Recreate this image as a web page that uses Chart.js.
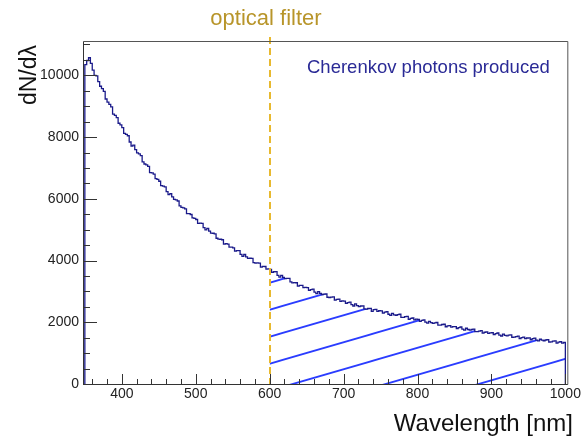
<!DOCTYPE html>
<html>
<head>
<meta charset="utf-8">
<script src="https://cdn.jsdelivr.net/npm/chart.js@4/dist/chart.umd.min.js"></script>
<style>
  html, body { margin: 0; padding: 0; background: #fff; }
  #wrap { width: 583px; height: 439px; }
</style>
</head>
<body>
<div id="wrap"><canvas id="spectrum"></canvas></div>
<script>
// Histogram binning (nm)
const BIN_START = 350;
const BIN_WIDTH = 2.5;
const BIN_END = 1000;

// Photon counts per bin (350 ... 997.5 nm)
const counts = [
  10350, 10480, 10570, 10390, 10172, 9997, 9982, 9796, 9647, 9571,
  9479, 9233, 9129, 9062, 8980, 8744, 8702, 8627, 8448, 8394,
  8308, 8119, 8088, 8042, 7841, 7711, 7740, 7596, 7489, 7453,
  7401, 7194, 7127, 7097, 7051, 6849, 6841, 6799, 6654, 6631,
  6569, 6427, 6413, 6385, 6233, 6137, 6169, 6062, 5984, 5963,
  5929, 5769, 5723, 5706, 5676, 5520, 5520, 5492, 5381, 5369,
  5329, 5207, 5211, 5202, 5068, 4991, 5040, 4950, 4888, 4884,
  4866, 4722, 4692, 4690, 4674, 4533, 4547, 4533, 4436, 4437,
  4411, 4302, 4319, 4322, 4201, 4135, 4196, 4118, 4068, 4074,
  4067, 3935, 3915, 3923, 3918, 3787, 3810, 3806, 3719, 3730,
  3709, 3618, 3636, 3642, 3516, 3463, 3518, 3454, 3414, 3423,
  3419, 3308, 3274, 3283, 3281, 3172, 3194, 3193, 3120, 3132,
  3120, 3036, 3060, 3073, 2978, 2931, 2992, 2934, 2900, 2914,
  2916, 2811, 2802, 2817, 2820, 2716, 2743, 2747, 2679, 2696,
  2688, 2609, 2638, 2655, 2570, 2527, 2593, 2539, 2509, 2527,
  2534, 2432, 2427, 2446, 2453, 2353, 2409, 2417, 2353, 2373,
  2369, 2294, 2326, 2347, 2260, 2221, 2290, 2239, 2228, 2249,
  2259, 2161, 2159, 2181, 2191, 2094, 2128, 2139, 2077, 2100,
  2095, 2032, 2060, 2077, 2004, 1972, 2030, 1988, 1965, 1983,
  1992, 1910, 1908, 1927, 1935, 1854, 1883, 1891, 1840, 1859,
  1859, 1798, 1827, 1847, 1776, 1746, 1806, 1765, 1745, 1765,
  1775, 1695, 1696, 1716, 1726, 1647, 1677, 1688, 1638, 1659,
  1660, 1601, 1632, 1653, 1584, 1555, 1617, 1578, 1560, 1581,
  1593, 1514, 1516, 1538, 1550, 1471, 1503, 1516, 1468, 1490,
  1492, 1434, 1467, 1489, 1422, 1394, 1457, 1419, 1402, 1425,
  1438, 1360, 1363, 1386, 1399, 1323, 1356, 1369, 1322, 1345
];

const xTicks = [400, 500, 600, 700, 800, 900, 1000];
const yTicks = [0, 2000, 4000, 6000, 8000, 10000];

const FILTER_NM = 600;   // optical filter cut
const X_MIN = 347.5, X_MAX = 1004;
const Y_MAX = 11080;

const FONT = '"Liberation Sans", Arial, sans-serif';

// step points for the full histogram (closed at both ends)
const histPoints = [{ x: BIN_START, y: 0 }]
  .concat(counts.map((v, i) => ({ x: BIN_START + i * BIN_WIDTH, y: v })))
  .concat([{ x: BIN_END, y: counts[counts.length - 1] }, { x: BIN_END, y: 0 }]);

// part of the histogram passed by the filter
const filteredPoints = histPoints.filter(p => p.x >= FILTER_NM && p.y > 0);

function makeHatch() {
  const w = 93, h = 27;
  const c = document.createElement('canvas');
  c.width = w; c.height = h;
  const g = c.getContext('2d');
  g.strokeStyle = '#2a3cff';
  g.lineWidth = 1.8;
  for (const k of [-1, 0, 1]) {
    g.beginPath();
    g.moveTo(-10, h * (1 + k) + 10 * h / w);
    g.lineTo(w + 10, h * k - 10 * h / w);
    g.stroke();
  }
  const pat = g.createPattern(c, 'repeat');
  pat.setTransform(new DOMMatrix().translate(0, 10));
  return pat;
}

const rootFrame = {
  id: 'rootFrame',
  afterDraw(chart) {
    const { ctx, chartArea: a, scales: { x, y } } = chart;
    ctx.save();

    // filter line
    const fx = Math.round(x.getPixelForValue(FILTER_NM));
    ctx.strokeStyle = '#e8b92f';
    ctx.lineWidth = 2;
    ctx.setLineDash([7, 4]);
    ctx.beginPath();
    ctx.moveTo(fx, 37);
    ctx.lineTo(fx, a.bottom);
    ctx.stroke();
    ctx.setLineDash([]);

    // frame
    ctx.strokeStyle = '#555';
    ctx.lineWidth = 1;
    ctx.beginPath();
    ctx.moveTo(a.left + 0.5, a.top - 0.5);
    ctx.lineTo(a.right - 0.5, a.top - 0.5);
    ctx.lineTo(a.right - 0.5, a.bottom + 0.5);
    ctx.stroke();
    ctx.strokeStyle = '#333';
    ctx.beginPath();
    ctx.moveTo(a.left + 0.5, a.top - 0.5);
    ctx.lineTo(a.left + 0.5, a.bottom + 0.5);
    ctx.lineTo(a.right - 0.5, a.bottom + 0.5);
    ctx.stroke();

    // ticks pointing inward, ROOT style
    ctx.beginPath();
    for (let v = 0; v <= 11000; v += 500) {
      const py = Math.round(y.getPixelForValue(v)) + 0.5;
      const len = v % 2000 === 0 ? 14 : 7;
      ctx.moveTo(a.left, py);
      ctx.lineTo(a.left + len, py);
    }
    for (let v = 360; v <= 1000; v += 20) {
      const px = Math.round(x.getPixelForValue(v)) + 0.5;
      const len = v % 100 === 0 ? 10 : 5;
      ctx.moveTo(px, a.bottom);
      ctx.lineTo(px, a.bottom - len);
    }
    ctx.stroke();

    // texts
    ctx.textBaseline = 'alphabetic';
    ctx.font = '22px ' + FONT;
    ctx.fillStyle = '#b8952a';
    ctx.textAlign = 'center';
    ctx.fillText('optical filter', 266, 25);

    ctx.font = '18.5px ' + FONT;
    ctx.fillStyle = '#2a2a96';
    ctx.textAlign = 'left';
    ctx.fillText('Cherenkov photons produced', 307, 73);

    ctx.font = '24px ' + FONT;
    ctx.fillStyle = '#111';
    ctx.textAlign = 'right';
    ctx.fillText('Wavelength [nm]', 573, 431);

    ctx.save();
    ctx.translate(36, 45);
    ctx.rotate(-Math.PI / 2);
    ctx.font = '23px ' + FONT;
    ctx.textAlign = 'right';
    ctx.fillText('dN/dλ', 0, 0);
    ctx.restore();

    ctx.restore();
  }
};

const ctx = document.getElementById('spectrum').getContext('2d');

new Chart(ctx, {
  type: 'line',
  data: {
    datasets: [
      {
        label: 'Cherenkov photons produced',
        data: histPoints,
        stepped: true,
        borderColor: '#1a1a8a',
        borderWidth: 1.3,
        pointRadius: 0,
        fill: false,
      },
      {
        label: 'filtered',
        data: filteredPoints,
        stepped: true,
        borderWidth: 0,
        borderColor: 'rgba(0,0,0,0)',
        backgroundColor: makeHatch(),
        pointRadius: 0,
        fill: 'origin',
      },
    ],
  },
  options: {
    responsive: true,
    maintainAspectRatio: false,
    animation: false,
    devicePixelRatio: 1,
    layout: { padding: { left: 0, top: 42, right: 11, bottom: 0 } },
    plugins: {
      legend: { display: false },
      tooltip: { enabled: false },
    },
    scales: {
      x: {
        type: 'linear',
        min: X_MIN,
        max: X_MAX,
        grid: { display: false, drawTicks: false },
        border: { display: false },
        afterBuildTicks: s => { s.ticks = xTicks.map(v => ({ value: v })); },
        afterFit: s => { s.height = 55; },
        ticks: {
          autoSkip: false,
          maxRotation: 0,
          padding: 2,
          color: '#222',
          font: { size: 14, family: FONT },
          callback: v => String(v),
        },
      },
      y: {
        min: 0,
        max: Y_MAX,
        grid: { display: false, drawTicks: false },
        border: { display: false },
        afterBuildTicks: s => { s.ticks = yTicks.map(v => ({ value: v })); },
        afterFit: s => { s.width = 83; },
        ticks: {
          autoSkip: false,
          padding: 4,
          color: '#222',
          font: { size: 14, family: FONT },
          callback: v => String(v),
        },
      },
    },
  },
  plugins: [rootFrame],
});
</script>
</body>
</html>
